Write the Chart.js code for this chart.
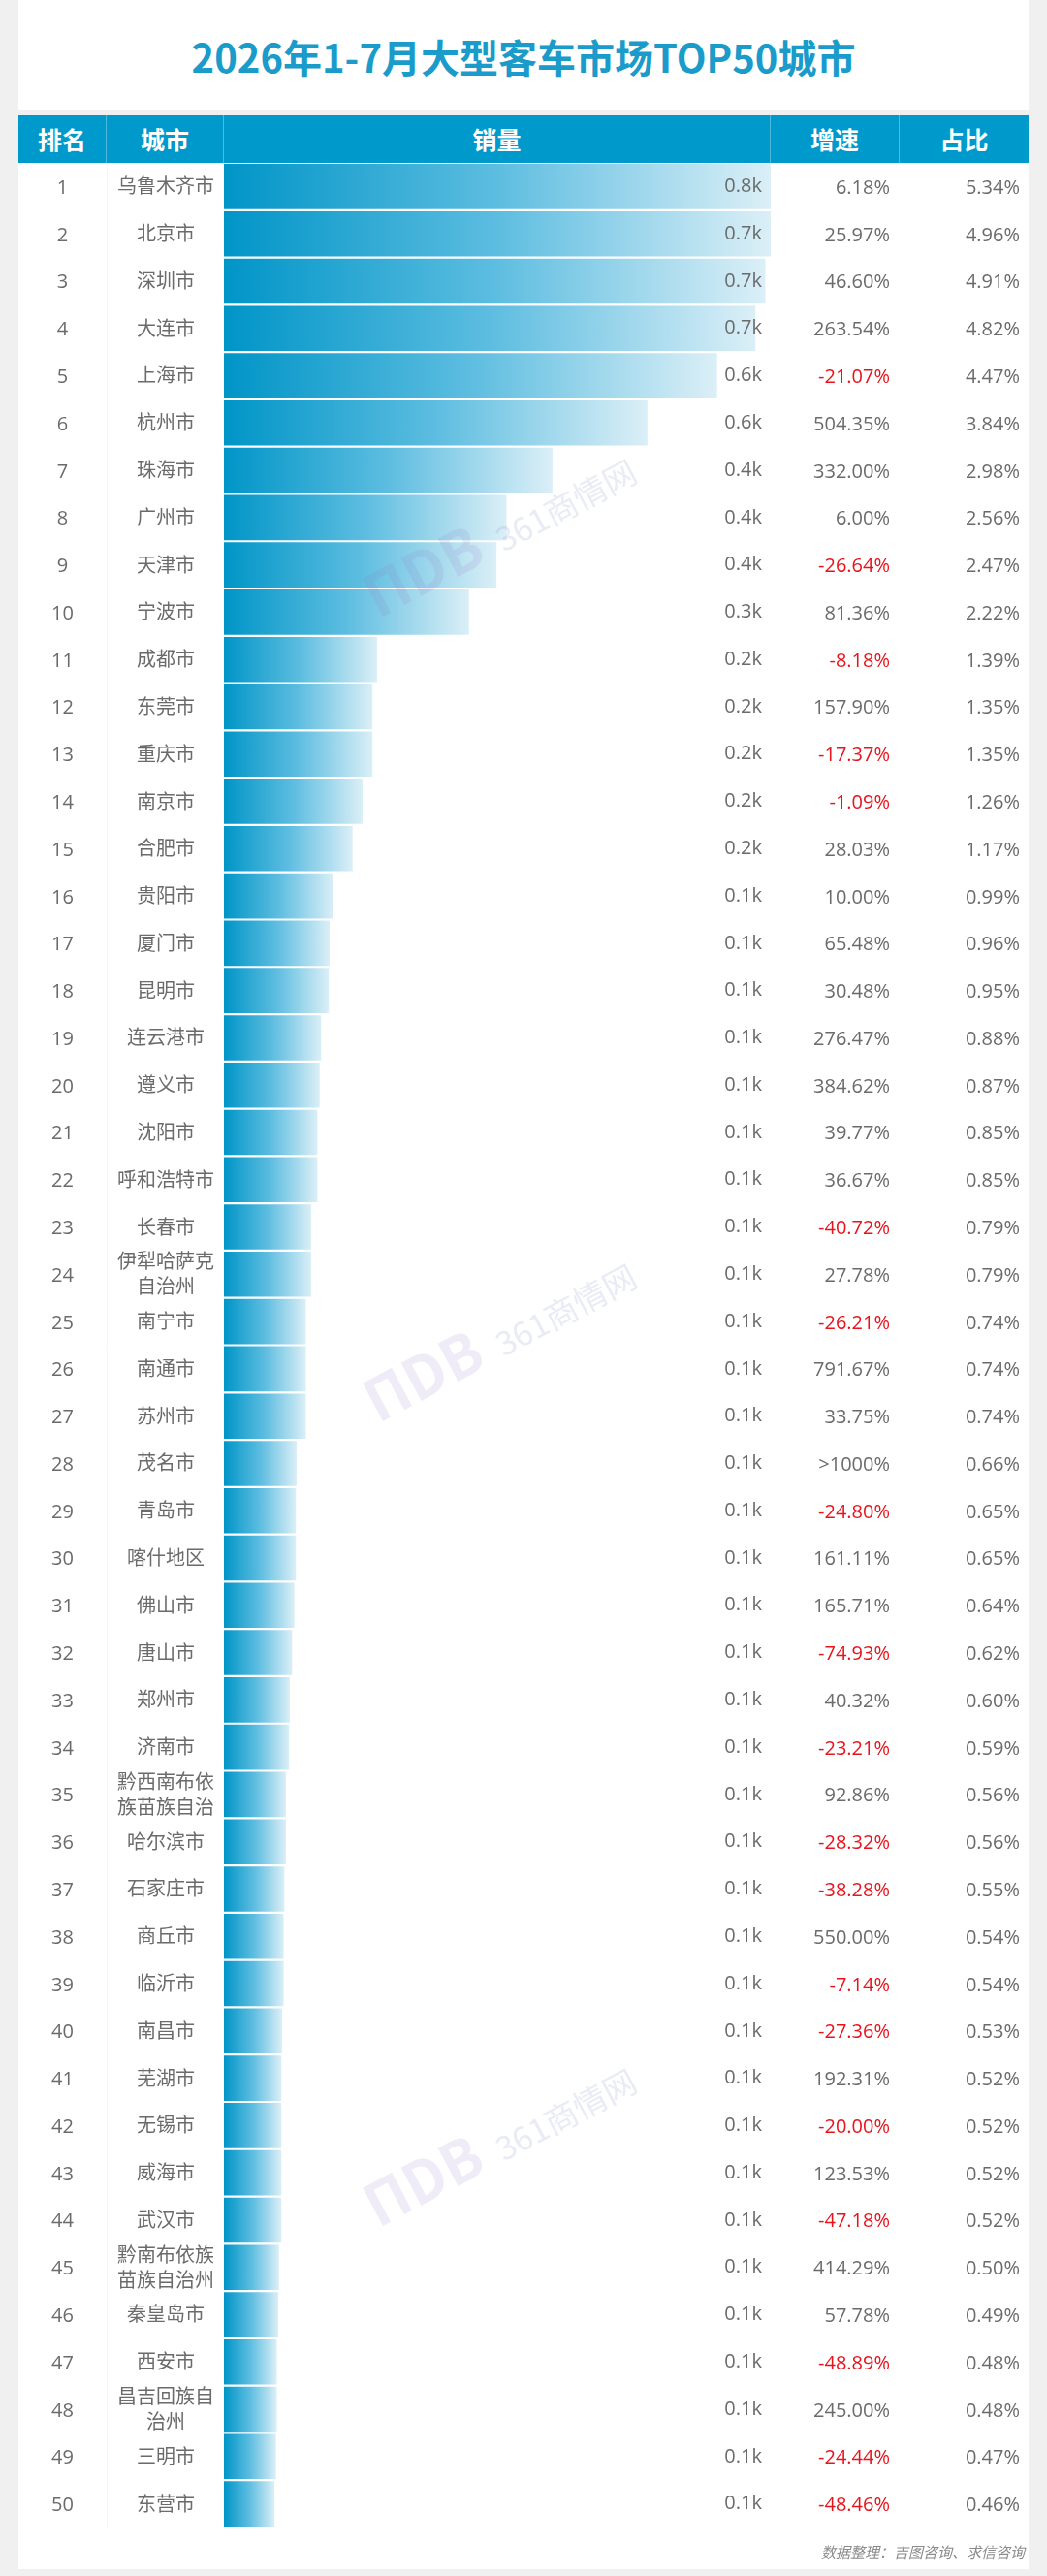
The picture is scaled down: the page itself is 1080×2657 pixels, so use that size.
<!DOCTYPE html>
<html>
<head>
<meta charset="utf-8">
<script src="https://cdn.jsdelivr.net/npm/chart.js@4.4.1/dist/chart.umd.min.js"></script>
<style>
body {
    margin: 0;
    width: 1080px;
    height: 2657px;
    background: #f0f0f0;
    font-family: "Open Sans", "Noto Sans CJK SC", sans-serif;
    position: relative;
    overflow: hidden;
}
#title-card {
    position: absolute;
    left: 19px; top: 0;
    width: 1042px; height: 113px;
    background: #fff;
}
#title-card h1 {
    margin: 0;
    line-height: 116px;
    text-align: center;
    font-size: 40px;
    font-weight: bold;
    color: #1a9bc9;
    font-family: "Noto Sans CJK SC", "Open Sans", sans-serif;
}
#table-card {
    position: absolute;
    left: 19px; top: 119px;
    width: 1042px; height: 2531px;
    background: #fff;
}
.head {
    position: absolute;
    left: 0; top: 0;
    height: 49px; width: 1042px;
    background: #0099cc;
}
.head div {
    position: absolute;
    top: 0; height: 49px;
    line-height: 49px;
    text-align: center;
    color: #fff;
    font-size: 25px;
    font-weight: bold;
    font-family: "Noto Sans CJK SC", sans-serif;
    box-sizing: border-box;
    border-right: 1px solid #4fb9de;
}
#rows {
    position: absolute;
    left: 0; top: 49px;
    width: 1042px; height: 2439px;
}
.row {
    position: absolute;
    left: 0; width: 1042px;
    color: #6b6b6b;
    font-size: 20px;
}
.row div {
    position: absolute;
    top: 0; height: 100%;
    display: flex;
    align-items: center;
    box-sizing: border-box;
}
.c-rank { left: 0; width: 91px; justify-content: center; }
.c-city { left: 91px; width: 121px; justify-content: center; text-align: center; line-height: 26px; padding: 0 8px; border-left: 1px solid #f6f6f6; }
.c-grow { left: 776px; width: 133px; justify-content: flex-end; padding-right: 10px; }
.c-share { left: 909px; width: 133px; justify-content: flex-end; padding-right: 9px; }
.neg { color: #e8141c; }
#chart-box {
    position: absolute;
    left: 212px; top: 0;
    width: 564px; height: 2439px;
}
#note {
    position: absolute;
    right: 4px; top: 2502px;
    font-size: 15px;
    font-style: italic;
    color: #8a8a8a;
    font-family: "Noto Sans CJK SC", sans-serif;
}
.wm {
    position: absolute;
    font-size: 34px;
    color: rgba(120, 130, 190, 0.16);
    transform: rotate(-28deg);
    pointer-events: none;
    font-family: "Noto Sans CJK SC", sans-serif;
    white-space: nowrap;
}
.wm b {
    font-size: 60px;
    margin-right: 18px;
    color: rgba(140, 120, 200, 0.14);
}
</style>
</head>
<body>
<div id="title-card"><h1>2026年1-7月大型客车市场TOP50城市</h1></div>
<div id="table-card">
    <div class="head">
        <div style="left:0;width:91px">排名</div>
        <div style="left:91px;width:121px">城市</div>
        <div style="left:212px;width:564px">销量</div>
        <div style="left:776px;width:133px">增速</div>
        <div style="left:909px;width:133px;border-right:none">占比</div>
    </div>
    <div id="rows">
        <div id="chart-box"><canvas id="salesChart"></canvas></div>
    </div>
    <div id="note">数据整理：吉图咨询、求信咨询</div>
</div>
<div class="wm" style="left:360px;top:500px"><b>ΠDB</b>361商情网</div>
<div class="wm" style="left:360px;top:1330px"><b>ΠDB</b>361商情网</div>
<div class="wm" style="left:360px;top:2160px"><b>ΠDB</b>361商情网</div>

<script>
const cities = ["乌鲁木齐市", "北京市", "深圳市", "大连市", "上海市", "杭州市", "珠海市", "广州市", "天津市", "宁波市",
    "成都市", "东莞市", "重庆市", "南京市", "合肥市", "贵阳市", "厦门市", "昆明市", "连云港市", "遵义市",
    "沈阳市", "呼和浩特市", "长春市", "伊犁哈萨克自治州", "南宁市", "南通市", "苏州市", "茂名市", "青岛市", "喀什地区",
    "佛山市", "唐山市", "郑州市", "济南市", "黔西南布依族苗族自治", "哈尔滨市", "石家庄市", "商丘市", "临沂市", "南昌市",
    "芜湖市", "无锡市", "威海市", "武汉市", "黔南布依族苗族自治州", "秦皇岛市", "西安市", "昌吉回族自治州", "三明市", "东营市"];

// sales (units), estimated from bar lengths and share column
const sales = [769, 714, 707, 694, 644, 553, 429, 369, 356, 320,
    200, 194, 194, 181, 168, 143, 138, 137, 127, 125,
    122, 122, 114, 114, 107, 107, 107, 95, 94, 94,
    92, 89, 86, 85, 81, 81, 79, 78, 78, 76,
    75, 75, 75, 75, 72, 71, 69, 69, 68, 66];

const growth = ["6.18%", "25.97%", "46.60%", "263.54%", "-21.07%", "504.35%", "332.00%", "6.00%", "-26.64%", "81.36%",
    "-8.18%", "157.90%", "-17.37%", "-1.09%", "28.03%", "10.00%", "65.48%", "30.48%", "276.47%", "384.62%",
    "39.77%", "36.67%", "-40.72%", "27.78%", "-26.21%", "791.67%", "33.75%", ">1000%", "-24.80%", "161.11%",
    "165.71%", "-74.93%", "40.32%", "-23.21%", "92.86%", "-28.32%", "-38.28%", "550.00%", "-7.14%", "-27.36%",
    "192.31%", "-20.00%", "123.53%", "-47.18%", "414.29%", "57.78%", "-48.89%", "245.00%", "-24.44%", "-48.46%"];

const shares = ["5.34%", "4.96%", "4.91%", "4.82%", "4.47%", "3.84%", "2.98%", "2.56%", "2.47%", "2.22%",
    "1.39%", "1.35%", "1.35%", "1.26%", "1.17%", "0.99%", "0.96%", "0.95%", "0.88%", "0.87%",
    "0.85%", "0.85%", "0.79%", "0.79%", "0.74%", "0.74%", "0.74%", "0.66%", "0.65%", "0.65%",
    "0.64%", "0.62%", "0.60%", "0.59%", "0.56%", "0.56%", "0.55%", "0.54%", "0.54%", "0.53%",
    "0.52%", "0.52%", "0.52%", "0.52%", "0.50%", "0.49%", "0.48%", "0.48%", "0.47%", "0.46%"];

// axis tops out at the 2nd city, the first bar is cut off at the column edge
const axisMax = 714;

// table cells
const rowsEl = document.getElementById("rows");
const rowH = 2439 / cities.length;
cities.forEach((city, i) => {
    const row = document.createElement("div");
    row.className = "row";
    row.style.top = (i * rowH) + "px";
    row.style.height = rowH + "px";
    const neg = growth[i].startsWith("-");
    row.innerHTML = `
        <div class="c-rank">${i + 1}</div>
        <div class="c-city">${city}</div>
        <div class="c-grow${neg ? " neg" : ""}">${growth[i]}</div>
        <div class="c-share">${shares[i]}</div>`;
    rowsEl.appendChild(row);
});

function barGradient(ctx) {
    const chart = ctx.chart;
    const area = chart.chartArea;
    if (!area || ctx.dataIndex === undefined) return "#0096c8";
    const x = chart.scales.x;
    const x0 = x.getPixelForValue(0);
    const x1 = x.getPixelForValue(Math.min(ctx.raw, axisMax));
    const g = chart.ctx.createLinearGradient(x0, 0, x1, 0);
    g.addColorStop(0, "#0095c7");
    g.addColorStop(0.5, "#5dbde0");
    g.addColorStop(1, "#dbeff7");
    return g;
}

const valueLabels = {
    id: "valueLabels",
    afterDatasetsDraw(chart) {
        const c = chart.ctx;
        const meta = chart.getDatasetMeta(0);
        c.save();
        c.font = "20px 'Open Sans'";
        c.fillStyle = "#6b6b6b";
        c.textAlign = "right";
        c.textBaseline = "middle";
        meta.data.forEach((bar, i) => {
            c.fillText((sales[i] / 1000).toFixed(1) + "k", chart.chartArea.right - 9, bar.y);
        });
        c.restore();
    }
};

new Chart(document.getElementById("salesChart"), {
    type: "bar",
    data: {
        labels: cities,
        datasets: [{
            label: "销量",
            data: sales,
            backgroundColor: barGradient,
            borderWidth: 0,
            categoryPercentage: 1,
            barPercentage: 0.955
        }]
    },
    options: {
        indexAxis: "y",
        responsive: true,
        maintainAspectRatio: false,
        animation: false,
        layout: { padding: 0 },
        scales: {
            x: { display: false, min: 0, max: axisMax },
            y: { display: false }
        },
        plugins: {
            legend: { display: false },
            tooltip: { enabled: false }
        }
    },
    plugins: [valueLabels]
});
</script>
</body>
</html>
